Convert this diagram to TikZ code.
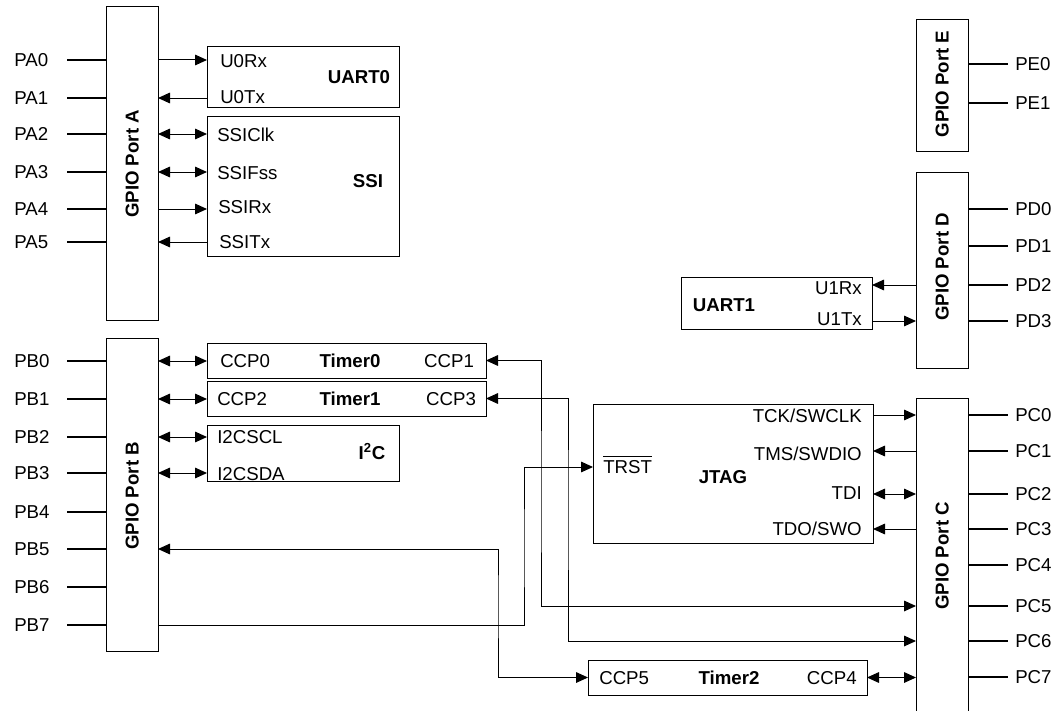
\documentclass[tikz,border=0pt]{standalone}
\usepackage{fontspec}
\setmainfont{Liberation Sans}
\usetikzlibrary{arrows.meta}
\newcommand{\pxu}{0.75pt}
\newcommand{\fsig}{\fontsize{14}{16.5}\selectfont}

\begin{document}
\begin{tikzpicture}[
    x=0.75pt, y=-0.75pt,
    tip/.tip={Triangle[length=9pt, width=8pt]},
    arr/.style={-tip, line width=0.75pt},
    biarr/.style={tip-tip, line width=0.75pt},
    pin/.style={line width=2.2pt},
    blk/.style={draw, line width=0.75pt, inner sep=0pt, outer sep=0pt},
    sig/.style={font=\fsig, inner sep=0pt, text height=10pt, text depth=0pt},
    ttl/.style={sig, font=\fsig\bfseries},
    portlbl/.style={ttl, rotate=90},
]
\useasboundingbox (0,0) rectangle (1063,710);
\clip (0,0) rectangle (1063,710);

% GPIO ports
\node[blk, minimum width=52*\pxu, minimum height=313*\pxu] (porta) at (132,163.5) {};
\node[blk, minimum width=52*\pxu, minimum height=313*\pxu] (portb) at (132,494.5) {};
\node[blk, minimum width=52*\pxu, minimum height=324*\pxu] (portc) at (942,560) {};
\node[blk, minimum width=52*\pxu, minimum height=196*\pxu] (portd) at (942,270) {};
\node[blk, minimum width=52*\pxu, minimum height=131*\pxu] (porte) at (942,85.5) {};
\node[portlbl] at (132,164) {GPIO Port A};
\node[portlbl] at (132,496) {GPIO Port B};
\node[portlbl] at (942,556) {GPIO Port C};
\node[portlbl] at (942,267) {GPIO Port D};
\node[portlbl] at (942,84) {GPIO Port E};

% Pins
\foreach \i/\y in {0/60,1/98,2/134,3/172,4/209,5/242} {
    \node[sig, anchor=west] (pa\i) at (14,\y) {PA\i};
    \draw[pin] (porta.west |- pa\i) -- ++(-39,0);
}
\foreach \i/\y in {0/361,1/399,2/437,3/473,4/512,5/549,6/587,7/625} {
    \node[sig, anchor=west] (pb\i) at (14,\y) {PB\i};
    \draw[pin] (portb.west |- pb\i) -- ++(-39,0);
}
\foreach \i/\y in {0/415,1/451,2/494,3/529,4/565,5/606,6/641,7/677} {
    \node[sig, anchor=west] (pc\i) at (1015,\y) {PC\i};
    \draw[pin] (portc.east |- pc\i) -- ++(40,0);
}
\foreach \i/\y in {0/209,1/246,2/285,3/321} {
    \node[sig, anchor=west] (pd\i) at (1015,\y) {PD\i};
    \draw[pin] (portd.east |- pd\i) -- ++(40,0);
}
\foreach \i/\y in {0/64,1/103} {
    \node[sig, anchor=west] (pe\i) at (1015,\y) {PE\i};
    \draw[pin] (porte.east |- pe\i) -- ++(40,0);
}

% UART0
\node[blk, minimum width=192*\pxu, minimum height=60*\pxu] (uart0) at (303,77) {};
\node[sig, anchor=west] at (220,61) {U0Rx};
\node[sig, anchor=west] at (220,97) {U0Tx};
\node[ttl] at (359,77) {UART0};

% SSI
\node[blk, minimum width=192*\pxu, minimum height=140*\pxu] (ssi) at (303,186) {};
\node[sig, anchor=west] at (217,135) {SSIClk};
\node[sig, anchor=west] at (217,173) {SSIFss};
\node[sig, anchor=west] at (218,207) {SSIRx};
\node[sig, anchor=west] at (219,242) {SSITx};
\node[ttl] at (368,181) {SSI};

\draw[arr] (porta.east |- pa0) -- (uart0.west |- pa0);
\draw[arr] (uart0.west |- pa1) -- (porta.east |- pa1);
\draw[biarr] (porta.east |- pa2) -- (ssi.west |- pa2);
\draw[biarr] (porta.east |- pa3) -- (ssi.west |- pa3);
\draw[arr] (porta.east |- pa4) -- (ssi.west |- pa4);
\draw[arr] (ssi.west |- pa5) -- (porta.east |- pa5);

% Timer0, Timer1
\node[blk, minimum width=279*\pxu, minimum height=35*\pxu] (timer0) at (346.5,360.5) {};
\node[sig, anchor=west] at (220,361) {CCP0};
\node[ttl] at (350,361) {Timer0};
\node[sig] at (449,361) {CCP1};
\node[blk, minimum width=279*\pxu, minimum height=35*\pxu] (timer1) at (346.5,398.5) {};
\node[sig, anchor=west] at (217,399) {CCP2};
\node[ttl] at (350,399) {Timer1};
\node[sig] at (451,399) {CCP3};

% I2C
\node[blk, minimum width=192*\pxu, minimum height=56*\pxu] (i2c) at (303,453) {};
\node[sig, anchor=west] at (217,437) {I2CSCL};
\node[sig, anchor=west] at (217,474) {I2CSDA};
\node[ttl] at (372,453) {I\textsuperscript{2}C};

\draw[biarr] (portb.east |- pb0) -- (timer0.west |- pb0);
\draw[biarr] (portb.east |- pb1) -- (timer1.west |- pb1);
\draw[biarr] (portb.east |- pb2) -- (i2c.west |- pb2);
\draw[biarr] (portb.east |- pb3) -- (i2c.west |- pb3);

% JTAG
\node[blk, minimum width=280*\pxu, minimum height=139*\pxu] (jtag) at (733,473.5) {};
\node[sig, anchor=west] (trst) at (603,467) {$\overline{\mbox{\rule{0pt}{12pt}TRST}}$};
\node[ttl] at (723,477) {JTAG};
\node[sig, anchor=east] at (862,416) {TCK/SWCLK};
\node[sig, anchor=east] at (862,454) {TMS/SWDIO};
\node[sig, anchor=east] at (862,493) {TDI};
\node[sig, anchor=east] at (862,529) {TDO/SWO};

\draw[arr] (jtag.east |- pc0) -- (portc.west |- pc0);
\draw[arr] (portc.west |- pc1) -- (jtag.east |- pc1);
\draw[biarr] (jtag.east |- pc2) -- (portc.west |- pc2);
\draw[arr] (portc.west |- pc3) -- (jtag.east |- pc3);

% UART1
\node[blk, minimum width=191*\pxu, minimum height=52*\pxu] (uart1) at (776.5,303) {};
\node[sig, anchor=east] at (862,288) {U1Rx};
\node[sig, anchor=east] at (862,319) {U1Tx};
\node[ttl] at (724,305) {UART1};

\draw[arr] (portd.west |- pd2) -- (uart1.east |- pd2);
\draw[arr] (uart1.east |- pd3) -- (portd.west |- pd3);

% Timer2
\node[blk, minimum width=279*\pxu, minimum height=35*\pxu] (timer2) at (727.5,677.5) {};
\node[sig, anchor=west] at (599,678) {CCP5};
\node[ttl] at (729,678) {Timer2};
\node[sig, anchor=east] at (857,678) {CCP4};

\draw[biarr] (timer2.east) -- (portc.west |- timer2.east);

% Routed connections
\coordinate (jb5) at (498,600);
\coordinate (jb7) at (524,550);
\coordinate (jc5) at (541,500);
\coordinate (jc6) at (568,500);
\draw[biarr] (portb.east |- pb5) -| (jb5) |- (timer2.west);
\draw[arr] (portb.east |- pb7) -| (jb7) |- (jtag.west |- trst);
\draw[biarr] (timer0.east) -| (jc5) |- (portc.west |- pc5);
\draw[biarr] (timer1.east) -| (jc6) |- (portc.west |- pc6);

\end{tikzpicture}
\end{document}
